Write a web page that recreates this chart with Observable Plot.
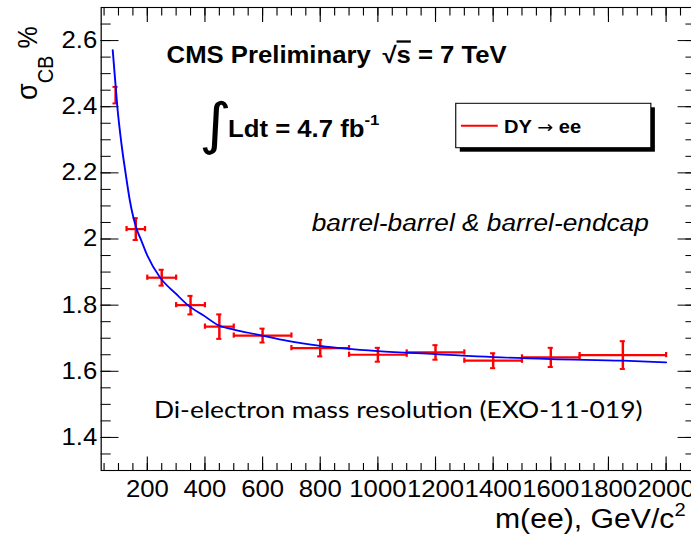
<!DOCTYPE html>
<html><head><meta charset="utf-8">
<script src="https://cdn.jsdelivr.net/npm/d3@7"></script>
<script src="https://cdn.jsdelivr.net/npm/@observablehq/plot@0.6"></script>
<style>
html,body{margin:0;padding:0;background:#fff;}
#chart{width:691px;height:537px;overflow:hidden;}
</style></head><body><div id="chart"></div>
<script>
// ---- data ----
const massCenter = [90, 160, 250, 350, 450, 600, 800, 1000, 1200, 1400, 1600, 1850];
const massLow    = [90, 128, 200, 300, 400, 500, 700, 900, 1100, 1300, 1500, 1700];
const massHigh   = [90, 192, 300, 400, 500, 700, 900, 1100, 1300, 1500, 1700, 2000];
const sigmaCB    = [2.435, 2.030, 1.883, 1.800, 1.735, 1.708, 1.670, 1.650, 1.657, 1.632, 1.642, 1.649];
const sigmaErr   = [0.025, 0.033, 0.024, 0.028, 0.037, 0.021, 0.025, 0.021, 0.022, 0.0225, 0.029, 0.042];

// fitted curve, sampled by eye along the blue line
const fitMass  = [80, 88, 96, 110, 124.5, 139.5, 163, 177, 200, 244, 300, 341, 400, 443, 500, 583, 687, 800, 1000, 1200, 1400, 1600, 1850, 2000];
const fitSigma = [2.571, 2.485, 2.40, 2.29, 2.20, 2.116, 2.030, 2.000, 1.950, 1.884, 1.834, 1.800, 1.766, 1.741, 1.726, 1.711, 1.692, 1.677, 1.661, 1.652, 1.643, 1.637, 1.632, 1.627];

const xMajorTicks = [200, 400, 600, 800, 1000, 1200, 1400, 1600, 1800, 2000];
const yMajorTicks = [1.4, 1.6, 1.8, 2.0, 2.2, 2.4, 2.6];
const xMinorTicks = d3.range(50, 2100, 50);
const yMinorTicks = d3.range(27, 54).map(k => k / 20);

const points = massCenter.map((m, i) => ({m, lo: massLow[i], hi: massHigh[i], s: sigmaCB[i], e: sigmaErr[i]}));
const fit = fitMass.map((m, i) => ({m, s: fitSigma[i]}));

const FONT = "'Liberation Sans', Arial, Helvetica, sans-serif";
const RED = "#ff0000";
const VBW = 618;          // viewBox width, stretched to 691px like the reference

function annotations() {
  const g = d3.create("svg:g").attr("fill", "#000").attr("font-family", FONT).attr("text-anchor", "start");
  // title
  const t = g.append("text").attr("x", 149).attr("y", 63).attr("font-size", 23).attr("font-weight", "bold");
  t.append("tspan").text("CMS Preliminary ");
  t.append("tspan").attr("dx", 4).text("√");
  t.append("tspan").style("text-decoration", "overline").text("s");
  t.append("tspan").text(" = 7 TeV");
  // integral
  g.append("text").attr("x", 178).attr("y", 143).attr("font-size", 56)
    .attr("font-family", "'DejaVu Sans', sans-serif").text("∫");
  const L = g.append("text").attr("x", 204).attr("y", 137).attr("font-size", 23).attr("font-weight", "bold");
  L.append("tspan").text("Ldt = 4.7 fb");
  L.append("tspan").attr("font-size", 15).attr("dy", -12).text("-1");
  // legend
  g.append("rect").attr("x", 411.2).attr("y", 107.3).attr("width", 174.5).attr("height", 44.4).attr("fill", "#000");
  g.append("rect").attr("x", 407.6).attr("y", 103.3).attr("width", 174.5).attr("height", 44.4)
    .attr("fill", "#fff").attr("stroke", "#000").attr("stroke-width", 1);
  g.append("line").attr("x1", 412.3).attr("x2", 445.2).attr("y1", 125.7).attr("y2", 125.7)
    .attr("stroke", RED).attr("stroke-width", 2);
  const lg = g.append("text").attr("x", 450.8).attr("y", 133).attr("font-size", 18).attr("font-weight", "bold");
  lg.append("tspan").text("DY ");
  lg.append("tspan").attr("font-weight", "normal").attr("font-family", "'DejaVu Sans', sans-serif")
    .attr("font-size", 17).text("→");
  lg.append("tspan").text(" ee");
  // region note
  g.append("text").attr("x", 278.8).attr("y", 231).attr("font-size", 23.5).attr("font-style", "italic")
    .text("barrel-barrel & barrel-endcap");
  // caption inside plot
  g.append("text").attr("class", "caption").attr("x", 137.7).attr("y", 418.3).attr("font-size", 26)
    .attr("font-family", "Lato, 'Open Sans', sans-serif")
    .text("Di-electron mass resolution (EXO-11-019)");
  // y title
  const yt = g.append("text").attr("transform", "translate(33.1,100) rotate(-90)").attr("font-size", 27);
  yt.append("tspan").text("σ");
  yt.append("tspan").attr("font-size", 20).attr("dy", 14).text("CB");
  yt.append("tspan").attr("font-size", 25).attr("dy", -14).text(" %");
  // x title
  const xt = g.append("text").attr("x", 442.7).attr("y", 528).attr("font-size", 27);
  xt.append("tspan").text("m(ee), GeV/c");
  xt.append("tspan").attr("font-size", 18).attr("dy", -12).text("2");
  return g.node();
}

const chart = Plot.plot({
  width: 621, height: 537,
  marginLeft: 90, marginRight: 0, marginTop: 7, marginBottom: 67,
  x: {domain: [40, 2100], label: null},
  y: {domain: [1.3, 2.7], label: null},
  style: {fontFamily: FONT, color: "#000", background: "#fff"},
  marks: [
    // mirrored inward ticks on all four sides
    Plot.axisX(xMinorTicks, {anchor: "bottom", tickSize: -7, tickFormat: () => "", label: null}),
    Plot.axisX(xMajorTicks, {anchor: "bottom", tickSize: -13.5, tickFormat: () => "", label: null}),
    Plot.axisX(xMinorTicks, {anchor: "top", tickSize: -7.5, tickFormat: () => "", label: null}),
    Plot.axisX(xMajorTicks, {anchor: "top", tickSize: -14, tickFormat: () => "", label: null}),
    Plot.axisY(yMinorTicks, {anchor: "left", tickSize: -9, tickFormat: () => "", label: null}),
    Plot.axisY(yMajorTicks, {anchor: "left", tickSize: -16, tickFormat: () => "", label: null}),
    Plot.axisY(yMinorTicks, {anchor: "right", tickSize: -9, tickFormat: () => "", label: null}),
    Plot.axisY(yMajorTicks, {anchor: "right", tickSize: -16, tickFormat: () => "", label: null}),
    // tick labels
    Plot.axisX(xMajorTicks, {anchor: "bottom", tickSize: 0, tickPadding: 10, fontSize: 23, tickFormat: d => String(d), label: null}),
    Plot.axisY(yMajorTicks, {anchor: "left", tickSize: 0, tickPadding: 3.5, fontSize: 23, tickFormat: d => String(d), label: null}),
    Plot.frame({stroke: "#000", strokeWidth: 1.1}),
    // error bars
    Plot.ruleY(points, {y: "s", x1: "lo", x2: "hi", stroke: RED, strokeWidth: 2.2}),
    Plot.ruleX(points, {x: "m", y1: d => d.s - d.e, y2: d => d.s + d.e, stroke: RED, strokeWidth: 2.2}),
    Plot.ruleY(points, {y: d => d.s + d.e, x1: "m", x2: "m", insetLeft: -2.3, insetRight: -2.3, stroke: RED, strokeWidth: 2}),
    Plot.ruleY(points, {y: d => d.s - d.e, x1: "m", x2: "m", insetLeft: -2.3, insetRight: -2.3, stroke: RED, strokeWidth: 2}),
    Plot.ruleX(points.filter(d => d.hi > d.lo), {x: "lo", y1: "s", y2: "s", insetTop: -2.6, insetBottom: -2.6, stroke: RED, strokeWidth: 2}),
    Plot.ruleX(points.filter(d => d.hi > d.lo), {x: "hi", y1: "s", y2: "s", insetTop: -2.6, insetBottom: -2.6, stroke: RED, strokeWidth: 2}),
    // fit
    Plot.line(fit, {x: "m", y: "s", stroke: "#0000ff", strokeWidth: 1.7, curve: "monotone-x"}),
    annotations
  ]
});

chart.setAttribute("viewBox", `0 0 ${VBW} 537`);
chart.setAttribute("width", 691);
chart.setAttribute("height", 537);
chart.setAttribute("preserveAspectRatio", "none");
chart.style.maxWidth = "none";
chart.style.width = "691px";
chart.style.height = "537px";
document.getElementById("chart").appendChild(chart);

// fit the caption's font size to the width it spans in the reference
const cap = chart.querySelector("text.caption");
if (cap) {
  const len = cap.getComputedTextLength();
  if (len > 0) cap.setAttribute("font-size", (26 * 437 / len).toFixed(2));
}
</script>
</body></html>
